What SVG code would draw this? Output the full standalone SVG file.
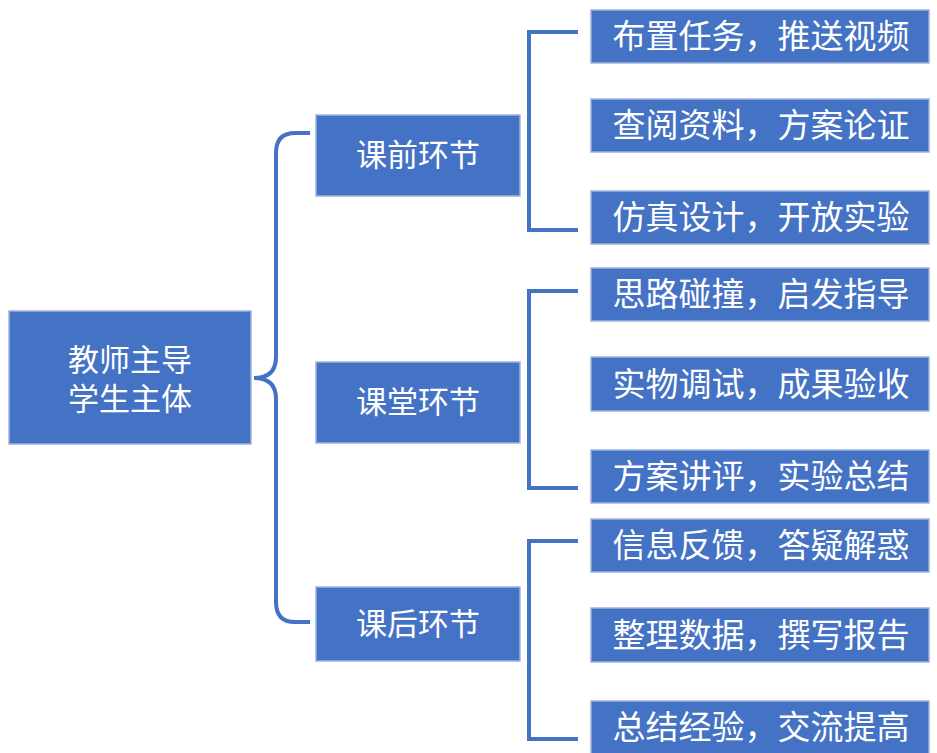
<svg xmlns="http://www.w3.org/2000/svg" width="937" height="753" viewBox="0 0 937 753">
<style>
.box{fill:#4472C4;stroke:#9DB3DE;stroke-width:1.5}
.t{fill:#FFFFFF;font-family:"Noto Sans CJK SC","Noto Sans",sans-serif;text-anchor:middle}
.leaf{font-size:33px}
.mid{font-size:31px}
.root{font-size:31px}
.ln{fill:none;stroke:#4472C4;stroke-width:4;stroke-linejoin:miter}
</style>
<rect width="937" height="753" fill="#FFFFFF"/>
<g id="connectors">
<path class="ln" d="M310,133 H295 Q276,133 276,153 V357 Q276,378 254,378 Q276,378 276,399 V602 Q276,622 295,622 H310"/>
<path class="ln" d="M578,32 H529 V230 H578"/>
<path class="ln" d="M578,291 H529 V488 H578"/>
<path class="ln" d="M578,541 H529 V739 H578"/>
</g>
<g id="root">
<rect class="box" x="9" y="311" width="242" height="133"/>
<text class="t root" x="130" y="371">教师主导</text>
<text class="t root" x="130" y="410">学生主体</text>
</g>
<g id="pre">
<rect class="box" x="316" y="115" width="204" height="81"/>
<text class="t mid" x="418" y="166">课前环节</text>
</g>
<g id="class">
<rect class="box" x="316" y="362" width="204" height="81"/>
<text class="t mid" x="418" y="413">课堂环节</text>
</g>
<g id="post">
<rect class="box" x="316" y="587" width="204" height="74"/>
<text class="t mid" x="418" y="635">课后环节</text>
</g>
<g id="leaf1"><rect class="box" x="591" y="10" width="338" height="53"/><text class="t leaf" x="761" y="48">布置任务，推送视频</text></g>
<g id="leaf2"><rect class="box" x="591" y="99" width="338" height="53"/><text class="t leaf" x="761" y="137">查阅资料，方案论证</text></g>
<g id="leaf3"><rect class="box" x="591" y="191" width="338" height="53"/><text class="t leaf" x="761" y="229">仿真设计，开放实验</text></g>
<g id="leaf4"><rect class="box" x="591" y="268" width="338" height="53"/><text class="t leaf" x="761" y="306">思路碰撞，启发指导</text></g>
<g id="leaf5"><rect class="box" x="591" y="357" width="338" height="54"/><text class="t leaf" x="761" y="396">实物调试，成果验收</text></g>
<g id="leaf6"><rect class="box" x="591" y="450" width="338" height="53"/><text class="t leaf" x="761" y="488">方案讲评，实验总结</text></g>
<g id="leaf7"><rect class="box" x="591" y="519" width="338" height="53"/><text class="t leaf" x="761" y="557">信息反馈，答疑解惑</text></g>
<g id="leaf8"><rect class="box" x="591" y="608" width="338" height="54"/><text class="t leaf" x="761" y="647">整理数据，撰写报告</text></g>
<g id="leaf9"><rect class="box" x="591" y="701" width="338" height="54"/><text class="t leaf" x="761" y="739">总结经验，交流提高</text></g>
</svg>
